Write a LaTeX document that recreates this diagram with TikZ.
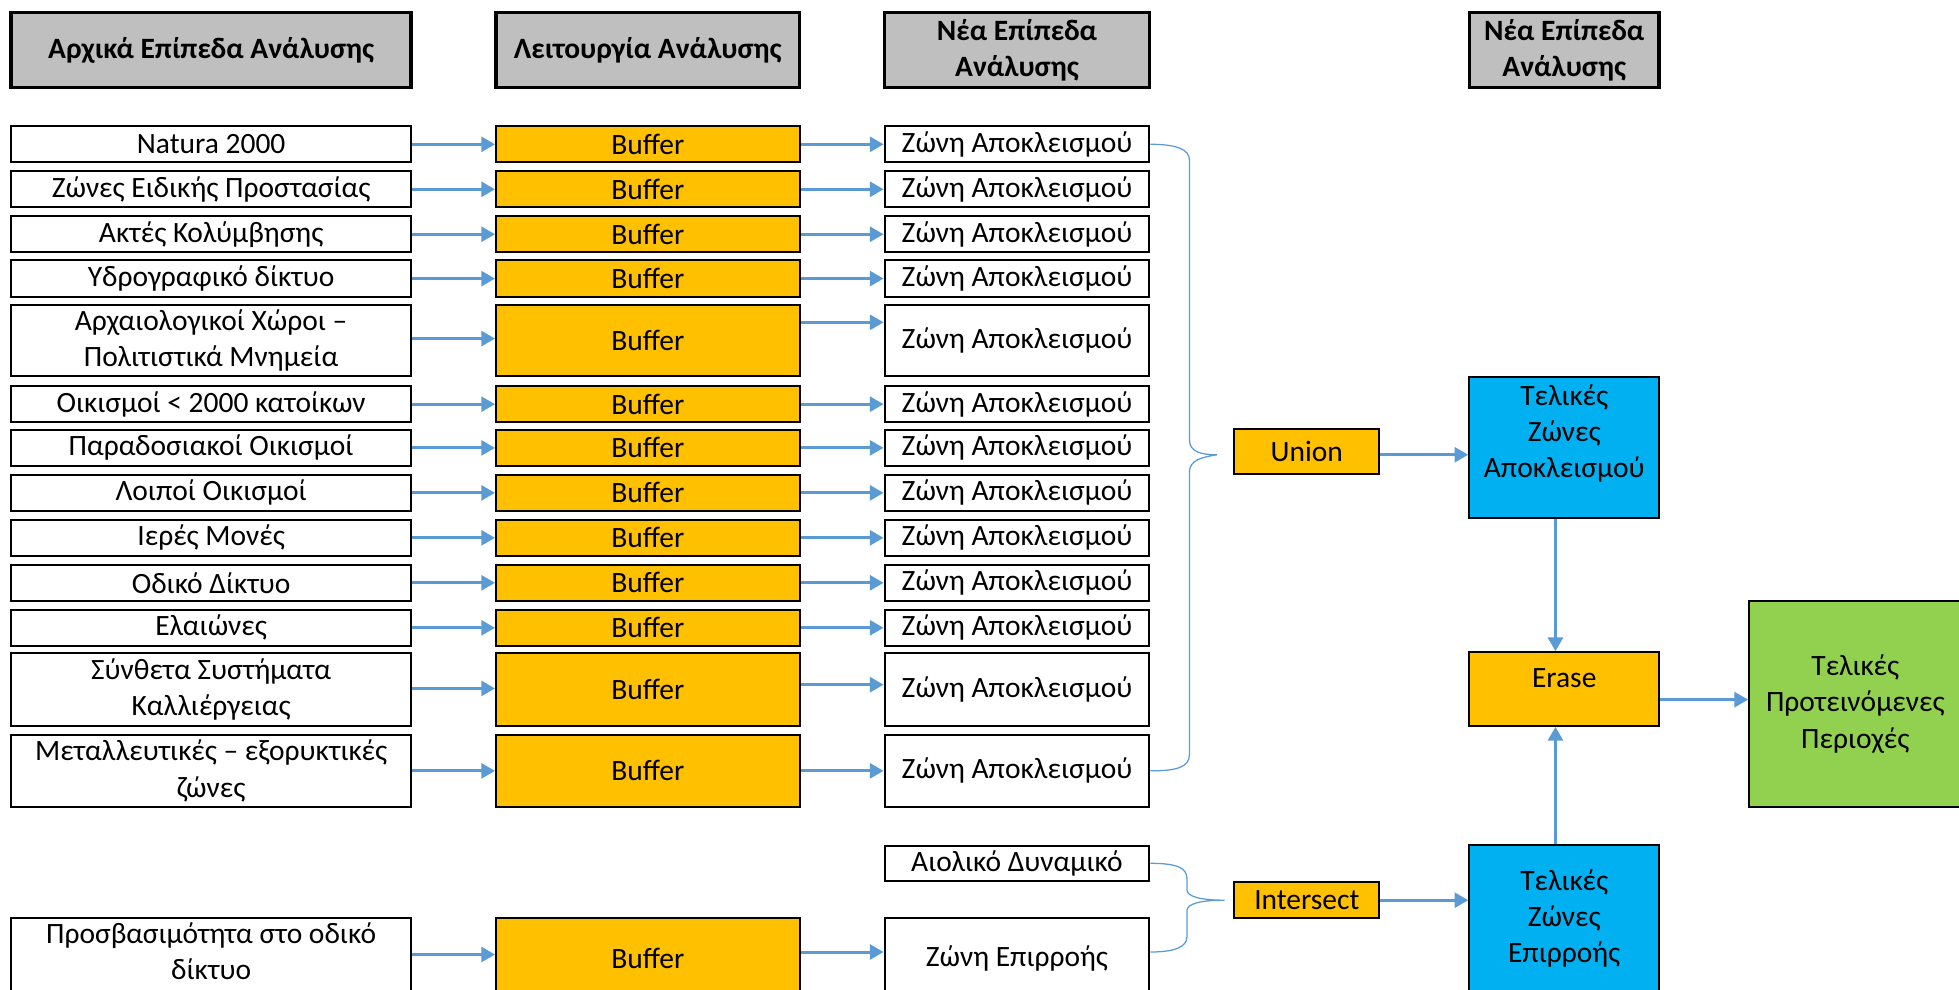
\documentclass[tikz,border=0pt]{standalone}
\usepackage{fontspec}
\setmainfont{Carlito}
\usetikzlibrary{arrows.meta,calc}
\definecolor{hdrgray}{HTML}{BFBFBF}
\definecolor{orng}{HTML}{FFC000}
\definecolor{skyb}{HTML}{00B0F0}
\definecolor{grn}{HTML}{92D050}
\definecolor{arr}{HTML}{5B9BD5}
\newcommand{\bodyfont}{\fontsize{23.6}{29}\selectfont}
\begin{document}
\begin{tikzpicture}[x=1pt,y=-1pt,
  box/.style={draw=black, line width=1.6pt, fill=white, inner sep=0pt, align=center,
    font=\bodyfont},
  hdr/.style={box, fill=hdrgray, line width=2.8pt, font=\bodyfont\bfseries,
    minimum height=60pt},
  opbox/.style={box, fill=orng},
  resbox/.style={box, fill=skyb},
  finbox/.style={box, fill=grn},
  inlbl/.style={inner sep=0pt, align=center, font=\bodyfont},
  c1/.style={minimum width=320pt},
  c2/.style={minimum width=243pt},
  c3/.style={minimum width=212pt},
  cr/.style={minimum width=152pt},
  flow/.style={draw=arr, line width=2.4pt, -{Triangle[length=11pt,width=12pt]}},
  brace/.style={draw=arr, line width=1pt}
]
\useasboundingbox (0,0) rectangle (1568,792);
\clip (0,0) rectangle (1568,792);

% headers
\node[hdr,c1] (h1) at (169,40) {Αρχικά Επίπεδα Ανάλυσης};
\node[hdr,c2] (h2) at (518.5,40) {Λειτουργία Ανάλυσης};
\node[hdr,c3] (h3) at (814,40) {Νέα Επίπεδα\\Ανάλυσης};
\node[hdr,cr] (h4) at (1252,40) {Νέα Επίπεδα\\Ανάλυσης};

% rows: input, buffer, zone
\node[box,c1,minimum height=29pt] (a1) at (169,115.5) {Natura 2000};
\node[opbox,c2,minimum height=29pt] (b1) at (518.5,115.5) {Buffer};
\node[box,c3,minimum height=29pt] (z1) at (814,115.5) {Ζώνη Αποκλεισμού};

\node[box,c1,minimum height=29pt] (a2) at (169,151.5) {Ζώνες Ειδικής Προστασίας};
\node[opbox,c2,minimum height=29pt] (b2) at (518.5,151.5) {Buffer};
\node[box,c3,minimum height=29pt] (z2) at (814,151.5) {Ζώνη Αποκλεισμού};

\node[box,c1,minimum height=29pt] (a3) at (169,187.5) {Ακτές Κολύμβησης};
\node[opbox,c2,minimum height=29pt] (b3) at (518.5,187.5) {Buffer};
\node[box,c3,minimum height=29pt] (z3) at (814,187.5) {Ζώνη Αποκλεισμού};

\node[box,c1,minimum height=29pt] (a4) at (169,223) {Υδρογραφικό δίκτυο};
\node[opbox,c2,minimum height=29pt] (b4) at (518.5,223) {Buffer};
\node[box,c3,minimum height=29pt] (z4) at (814,223) {Ζώνη Αποκλεισμού};

\node[box,c1,minimum height=57pt] (a5) at (169,272.5) {Αρχαιολογικοί Χώροι –\\Πολιτιστικά Μνημεία};
\node[opbox,c2,minimum height=57pt] (b5) at (518.5,272.5) {Buffer};
\node[box,c3,minimum height=57pt] (z5) at (814,272.5) {Ζώνη Αποκλεισμού};

\node[box,c1,minimum height=29pt] (a6) at (169,323.5) {Οικισμοί < 2000 κατοίκων};
\node[opbox,c2,minimum height=29pt] (b6) at (518.5,323.5) {Buffer};
\node[box,c3,minimum height=29pt] (z6) at (814,323.5) {Ζώνη Αποκλεισμού};

\node[box,c1,minimum height=29pt] (a7) at (169,358.5) {Παραδοσιακοί Οικισμοί};
\node[opbox,c2,minimum height=29pt] (b7) at (518.5,358.5) {Buffer};
\node[box,c3,minimum height=29pt] (z7) at (814,358.5) {Ζώνη Αποκλεισμού};

\node[box,c1,minimum height=29pt] (a8) at (169,394.5) {Λοιποί Οικισμοί};
\node[opbox,c2,minimum height=29pt] (b8) at (518.5,394.5) {Buffer};
\node[box,c3,minimum height=29pt] (z8) at (814,394.5) {Ζώνη Αποκλεισμού};

\node[box,c1,minimum height=29pt] (a9) at (169,430.5) {Ιερές Μονές};
\node[opbox,c2,minimum height=29pt] (b9) at (518.5,430.5) {Buffer};
\node[box,c3,minimum height=29pt] (z9) at (814,430.5) {Ζώνη Αποκλεισμού};

\node[box,c1,minimum height=29pt] (a10) at (169,466.5) {Οδικό Δίκτυο};
\node[opbox,c2,minimum height=29pt] (b10) at (518.5,466.5) {Buffer};
\node[box,c3,minimum height=29pt] (z10) at (814,466.5) {Ζώνη Αποκλεισμού};

\node[box,c1,minimum height=29pt] (a11) at (169,502.5) {Ελαιώνες};
\node[opbox,c2,minimum height=29pt] (b11) at (518.5,502.5) {Buffer};
\node[box,c3,minimum height=29pt] (z11) at (814,502.5) {Ζώνη Αποκλεισμού};

\node[box,c1,minimum height=58pt] (a12) at (169,552) {Σύνθετα Συστήματα\\Καλλιέργειας};
\node[opbox,c2,minimum height=58pt] (b12) at (518.5,552) {Buffer};
\node[box,c3,minimum height=58pt] (z12) at (814,552) {Ζώνη Αποκλεισμού};

\node[box,c1,minimum height=58pt] (a13) at (169,617) {Μεταλλευτικές – εξορυκτικές\\ζώνες};
\node[opbox,c2,minimum height=58pt] (b13) at (518.5,617) {Buffer};
\node[box,c3,minimum height=58pt] (z13) at (814,617) {Ζώνη Αποκλεισμού};

\node[box,c3,minimum height=28pt] (wind) at (814,691) {Αιολικό Δυναμικό};

\node[box,c1,minimum height=65pt,text depth=12pt] (a14) at (169,767.5) {Προσβασιμότητα στο οδικό\\δίκτυο};
\node[opbox,c2,minimum height=65pt] (b14) at (518.5,767.5) {\raisebox{-2pt}{Buffer}};
\node[box,c3,minimum height=65pt] (z14) at (814,767.5) {\raisebox{-2pt}{Ζώνη Επιρροής}};

% operations and results
\node[opbox,minimum width=116pt,minimum height=36pt] (union) at (1046,361) {Union};
\node[opbox,minimum width=116pt,minimum height=29pt] (inter) at (1046,720.5) {Intersect};
\node[resbox,cr,minimum height=113pt,
  label={[inlbl,yshift=11.5pt]center:{Τελικές\\Ζώνες\\Αποκλεισμού}}] (res1) at (1252,358.5) {};
\node[opbox,cr,minimum height=59pt,
  label={[inlbl,yshift=8.5pt]center:{Erase}}] (erase) at (1252,551.5) {};
\node[resbox,cr,minimum height=124pt,
  label={[inlbl,yshift=3pt]center:{Τελικές\\Ζώνες\\Επιρροής}}] (res2) at (1252,738) {};
\node[finbox,minimum width=170pt,minimum height=165pt] (fin) at (1485,563.5) {Τελικές\\Προτεινόμενες\\Περιοχές};

% arrows input -> buffer -> zone
\foreach \i in {1,2,3,4,6,7,8,9,10,11,13} {
  \draw[flow] (a\i.east) -- (b\i.west);
  \draw[flow] (b\i.east) -- (z\i.west);
}
\draw[flow] ($(a5.east)+(0,-1.5)$) -- ($(b5.west)+(0,-1.5)$);
\draw[flow] ($(b5.east)+(0,-14.5)$) -- ($(z5.west)+(0,-14.5)$);
\draw[flow] ($(a12.east)+(0,-1)$) -- ($(b12.west)+(0,-1)$);
\draw[flow] ($(b12.east)+(0,-4)$) -- ($(z12.west)+(0,-4)$);
\draw[flow] ($(a14.east)+(0,-3.5)$) -- ($(b14.west)+(0,-3.5)$);
\draw[flow] ($(b14.east)+(0,-5.5)$) -- ($(z14.west)+(0,-5.5)$);

% braces
\coordinate (ub) at ($(union.west)+(-13,3)$);
\draw[brace] (z1.east) .. controls +(22,0) and +(0,-8) .. (952,128) -- (952,352)
  .. controls (952,362) and (962,364) .. (ub)
  .. controls (962,366) and (952,368) .. (952,378) -- (952,604)
  .. controls (952,614) and (942,617) .. (z13.east);
\coordinate (ib) at ($(inter.west)+(-7,0)$);
\draw[brace] (wind.east) .. controls +(22,0) and +(0,-8) .. (950,703) -- (950,712)
  .. controls (950,718) and (962,720.5) .. (ib)
  .. controls (962,720.5) and (950,723) .. (950,729) -- (950,750)
  .. controls (950,758) and (940,762) .. ($(z14.east)+(0,-5.5)$);

% right-side flow
\coordinate (uo) at ($(union.east)+(0,3)$);
\draw[flow] (uo) -- (uo -| res1.west);
\draw[flow] (inter.east) -- (inter.east -| res2.west);
\draw[flow] ($(res1.south)+(-7,0)$) -- ($(erase.north)+(-7,0)$);
\draw[flow] ($(res2.north)+(-7,0)$) -- ($(erase.south)+(-7,0)$);
\coordinate (eo) at ($(erase.east)+(0,8.5)$);
\draw[flow] (eo) -- (eo -| fin.west);
\end{tikzpicture}
\end{document}
